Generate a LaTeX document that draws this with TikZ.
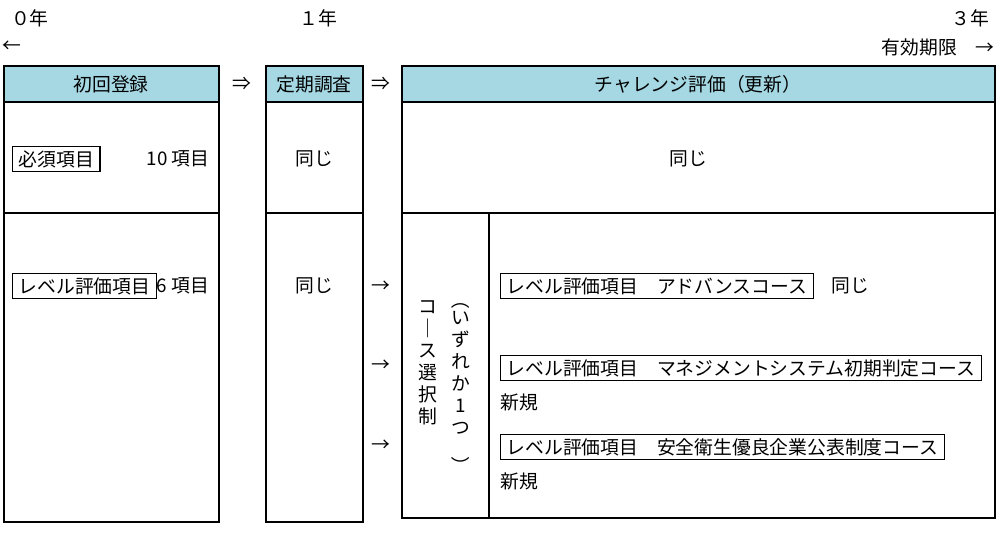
\documentclass[tikz,border=0pt]{standalone}
\usepackage{fontspec}
\setmainfont{Noto Sans CJK JP}
\usepackage{graphicx}
\begin{document}
\begin{tikzpicture}[x=0.02cm,y=-0.02cm,font=\fontsize{10.7}{12}\selectfont,
  frame/.style={draw,line width=0.7pt},
  hdr/.style={draw,line width=0.7pt,fill=hblue},
  tag/.style={draw,line width=0.7pt,inner ysep=2pt,inner xsep=3.5pt,anchor=west},
  txt/.style={inner sep=0pt}]
\definecolor{hblue}{RGB}{166,216,228}
\useasboundingbox (0,0) rectangle (1000,535);
% boxes
\draw[hdr] (4,66) rectangle (219,102);
\draw[frame] (4,102) rectangle (219,522);
\draw[frame] (4,213) -- (219,213);
\draw[hdr] (266,66) rectangle (363,102);
\draw[frame] (266,102) rectangle (363,522);
\draw[frame] (266,213) -- (363,213);
\draw[hdr] (402,66) rectangle (995,102);
\draw[frame] (402,102) rectangle (995,518);
\draw[frame] (402,213) -- (995,213);
\draw[frame] (489,213) -- (489,518);
% headers
\node[txt] (h1) at (111,84) {初回登録};
\node[txt] (h2) at (314,84) {定期調査};
\node[txt] (h3) at (698,84) {チャレンジ評価（更新）};
\node[txt] (i1) at (242,84) {⇒};
\node[txt] (i2) at (381,84) {⇒};
% top
\node[txt] (t0) at (30,18) {０年};
\node[txt] (ta) at (12,47) {←};
\node[txt] (t1) at (318,18) {１年};
\node[txt] (t3) at (970,18) {３年};
\node[txt,anchor=east] (tb) at (995,47) {有効期限　→};
% row 1
\node[tag] (a1) at (12,159) {必須項目};
\node[txt] (a2) at (178,159) {10 項目};
\node[txt] (a3) at (314,159) {同じ};
\node[txt] (a4) at (688,159) {同じ};
% row 2
\node[tag] (b1) at (12,286) {レベル評価項目};
\node[txt] (b2) at (183,286) {6 項目};
\node[txt] (b3) at (314,286) {同じ};
\node[txt] (r1) at (381,287) {→};
\node[txt] (r2) at (381,366) {→};
\node[txt] (r3) at (381,446) {→};
\node[tag] (c1) at (500,286) {レベル評価項目　アドバンスコース};
\node[txt] (c1s) at (850,286) {同じ};
\node[tag] (c2) at (500,368) {レベル評価項目　マネジメントシステム初期判定コース};
\node[txt,anchor=west] (c2s) at (500,402) {新規};
\node[tag] (c3) at (500,447) {レベル評価項目　安全衛生優良企業公表制度コース};
\node[txt,anchor=west] (c3s) at (500,481) {新規};
% vertical text
\node[txt,align=center,anchor=north,font=\fontsize{10.7}{12.6}\selectfont] (v1) at (428,300) {コ\\｜\\ス\\選\\択\\制};
\node[txt,align=center,anchor=north,font=\fontsize{10.7}{12.6}\selectfont] (v2) at (461,290) {\rotatebox{-90}{（}\\い\\ず\\れ\\か\\1\\つ\\\rotatebox{-90}{）}};
\end{tikzpicture}
\end{document}
